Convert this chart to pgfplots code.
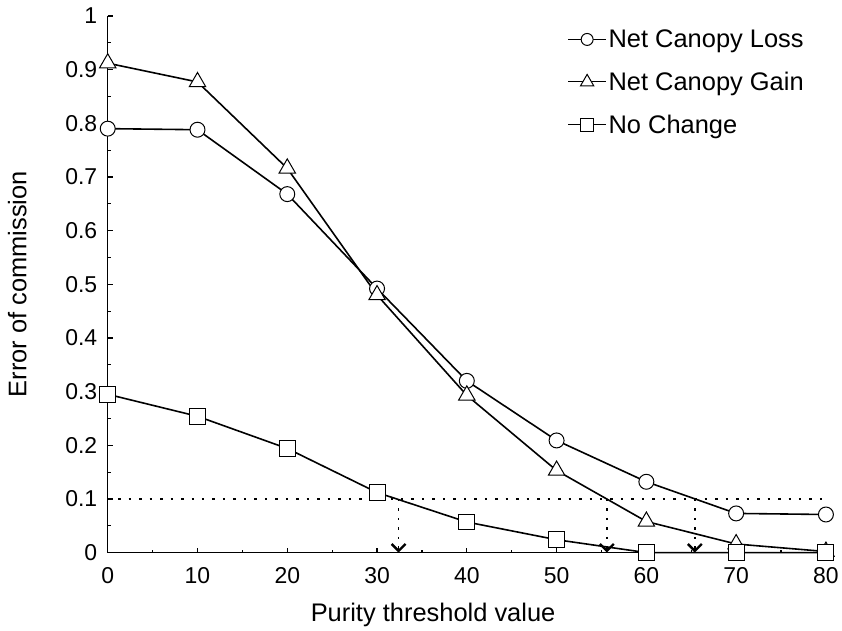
\documentclass[border=0pt]{standalone}
\usepackage{fontspec}
\setmainfont{Liberation Sans}
\usepackage{pgfplots}
\pgfplotsset{compat=1.18}
\usetikzlibrary{arrows.meta}

\begin{document}
\begin{tikzpicture}
\begin{axis}[
    name=ax,
    scale only axis,
    width=720pt, height=538pt,
    xmin=0, xmax=80, ymin=0, ymax=1,
    axis x line*=bottom, axis y line*=left,
    axis line style={line width=1.5pt, -},
    xtick distance=10, ytick distance=0.1,
    minor tick num=1,
    tick align=inside,
    tick style={black, line width=1.2pt},
    major tick length=5pt, minor tick length=3pt,
    /pgf/number format/assume math mode=true,
    tick label style={font=\fontsize{23}{26}\selectfont},
    xticklabel style={yshift=-11pt},
    yticklabel style={xshift=-7pt},
    label style={font=\fontsize{25.5}{29}\selectfont},
    xlabel={Purity threshold value},
    ylabel={Error of commission},
    xlabel style={at={(axis description cs:0.453,-0.117)}, anchor=center},
    ylabel style={at={(axis description cs:-0.126,0.5)}, anchor=center},
    clip=false,
    axis on top,
    legend style={draw=none, fill=none, at={(0.636,0.982)}, anchor=north west,
        font=\fontsize{25.5}{29}\selectfont, row sep=19pt,
        /tikz/every even column/.append style={column sep=11pt}},
    legend cell align=left,
    legend image code/.code={
        \draw[#1, line width=1pt, mark repeat=2, mark phase=2,
              every mark/.append style={scale=0.8}]
            plot coordinates {(0pt,0pt) (19pt,0pt) (38pt,0pt)};
    },
]
% threshold lines
\addplot[forget plot, black, line width=2pt, dash pattern=on 2.5pt off 8pt]
    coordinates {(0,0.1) (80,0.1)};
\addplot[forget plot, black, line width=1.8pt, dash pattern=on 2.5pt off 7pt,
    -{Straight Barb[length=7pt,width=14pt,line width=2.4pt]}]
    coordinates {(32.4,0.1) (32.4,0)};
\addplot[forget plot, black, line width=1.8pt, dash pattern=on 2.5pt off 7pt,
    -{Straight Barb[length=7pt,width=14pt,line width=2.4pt]}]
    coordinates {(55.6,0.1) (55.6,0)};
\addplot[forget plot, black, line width=1.8pt, dash pattern=on 2.5pt off 7pt,
    -{Straight Barb[length=7pt,width=14pt,line width=2.4pt]}]
    coordinates {(65.4,0.1) (65.4,0)};

% series
\addplot[black, line width=1.6pt, mark=*, mark size=7.5pt,
    mark options={fill=white, draw=black, line width=1pt, solid}]
    coordinates {(0,0.790) (10,0.788) (20,0.668) (30,0.492) (40,0.320)
                 (50,0.209) (60,0.132) (70,0.073) (80,0.071)};
\addplot[black, line width=1.6pt, mark=triangle*, mark size=9.5pt,
    mark options={fill=white, draw=black, line width=1pt, solid}]
    coordinates {(0,0.912) (10,0.877) (20,0.716) (30,0.480) (40,0.293)
                 (50,0.153) (60,0.058) (70,0.016) (80,0.002)};
\addplot[black, line width=1.6pt, mark=square*, mark size=8pt,
    mark options={fill=white, draw=black, line width=1pt, solid}]
    coordinates {(0,0.295) (10,0.254) (20,0.194) (30,0.112) (40,0.057)
                 (50,0.024) (60,0.000) (70,0.000) (80,0.000)};
\legend{Net Canopy Loss, Net Canopy Gain, No Change}
\end{axis}
\path (ax.south west) ++(-108pt,-75pt) coordinate (bbl);
\path (ax.north east) ++(14pt,16pt) coordinate (bbr);
\useasboundingbox (bbl) rectangle (bbr);
\end{tikzpicture}
\end{document}
